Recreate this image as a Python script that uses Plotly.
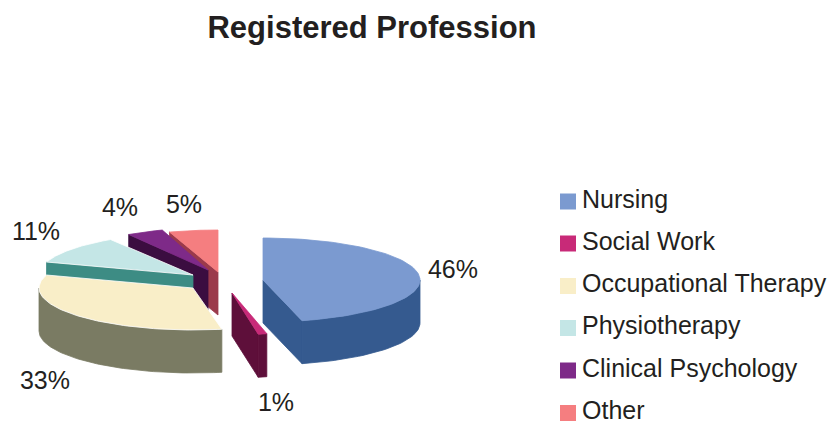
import numpy as np
import plotly.graph_objects as go

# --- data ---
categories = ["Nursing", "Social Work", "Occupational Therapy",
              "Physiotherapy", "Clinical Psychology", "Other"]
values = [46, 1, 33, 11, 4, 5]
title_text = "Registered Profession"

# --- styles ---
top_colors = ["#7b9ad0", "#c82a78", "#f9eec8", "#c4e6e6", "#7e2a88", "#f57e80"]
side_colors = ["#355a8f", "#5e0f3a", "#7a7b63", "#3d8c84", "#3b0d40", "#9b3a4b"]
top_lines = ["#7b9ad0", "#c82a78", "#ffffff", "#ffffff", "#7e2a88", "#f57e80"]
draw_order = [5, 4, 3, 2, 1, 0]  # back to front

# --- layout of the exploded projected pie (pixels) ---
wedge_cx = [263, 232, 193, 193, 208, 218]
wedge_cy = [280, 293, 288, 275, 270, 272]
wedge_rx = [157, 140, 154, 154, 148, 157]
ry = 42
depth = 43
label_x = [453, 276, 45, 36, 120, 184]
label_y = [272, 405, 383, 234, 210, 207]
legend_x = 568
legend_text_x = 582
legend_y = [201.5, 243.5, 286, 328, 370.5, 413]
legend_swatch = 16
font_family = "Liberation Sans, Arial, sans-serif"
text_color = "#231f20"

fig = go.Figure()


def poly(xs, ys, color, line=None):
    fig.add_trace(go.Scatter(
        x=xs, y=ys, mode="lines", fill="toself", fillcolor=color,
        line=dict(color=line or color, width=0.8),
        hoverinfo="skip", showlegend=False))


total = sum(values)
edges = np.concatenate([[0], np.cumsum(values)]) / total * 2 * np.pi

for i in draw_order:
    a0, a1 = edges[i], edges[i + 1]
    cx, cy, rx = wedge_cx[i], wedge_cy[i], wedge_rx[i]
    t = np.linspace(a0, a1, 80)
    ex, ey = cx + rx * np.sin(t), cy - ry * np.cos(t)

    # cut faces (extruded radial edges), only those facing the viewer
    for a in (a0, a1):
        px, py = cx + rx * np.sin(a), cy - ry * np.cos(a)
        faces_viewer = (a == a1 and np.sin(a) > 0) or (a == a0 and np.sin(a) < 0)
        if faces_viewer:
            poly([cx, px, px, cx, cx], [cy, py, py + depth, cy + depth, cy],
                 side_colors[i])

    # outer rim, visible only on the front half of the ellipse
    front = np.cos(t) <= 0.0
    if front.sum() > 1:
        rim_x, rim_y = ex[front], ey[front]
        poly(np.r_[rim_x, rim_x[::-1], rim_x[0]],
             np.r_[rim_y, rim_y[::-1] + depth, rim_y[0]],
             side_colors[i])

    # top face
    poly(np.r_[cx, ex, cx], np.r_[cy, ey, cy], top_colors[i], line=top_lines[i])

# data labels
fig.add_trace(go.Scatter(
    x=label_x, y=label_y, mode="text",
    text=[f"{v}%" for v in values], textposition="middle center",
    textfont=dict(family=font_family, size=25, color=text_color),
    hoverinfo="skip", showlegend=False))

# legend swatches and entries
fig.add_trace(go.Scatter(
    x=[legend_x] * len(categories), y=legend_y, mode="markers",
    marker=dict(symbol="square", size=legend_swatch, color=top_colors,
                line=dict(width=0)),
    cliponaxis=False, hoverinfo="skip", showlegend=False))
fig.add_trace(go.Scatter(
    x=[legend_text_x] * len(categories), y=legend_y, mode="text",
    text=categories, textposition="middle right",
    textfont=dict(family=font_family, size=25, color=text_color),
    cliponaxis=False, hoverinfo="skip", showlegend=False))

fig.update_layout(
    width=828, height=421, autosize=False,
    margin=dict(l=0, r=0, t=0, b=0),
    paper_bgcolor="white", plot_bgcolor="white",
    showlegend=False,
    title=dict(text=f"<b>{title_text}</b>", x=372 / 828, xanchor="center",
               y=1 - 27 / 421, yanchor="middle",
               font=dict(family=font_family, size=31, color=text_color)),
    xaxis=dict(range=[0, 828], visible=False, fixedrange=True),
    yaxis=dict(range=[421, 0], visible=False, fixedrange=True),
)
fig.write_html("out.html", config=dict(displayModeBar=False),
               post_script="document.body.style.margin='0';document.body.style.overflow='hidden';")
